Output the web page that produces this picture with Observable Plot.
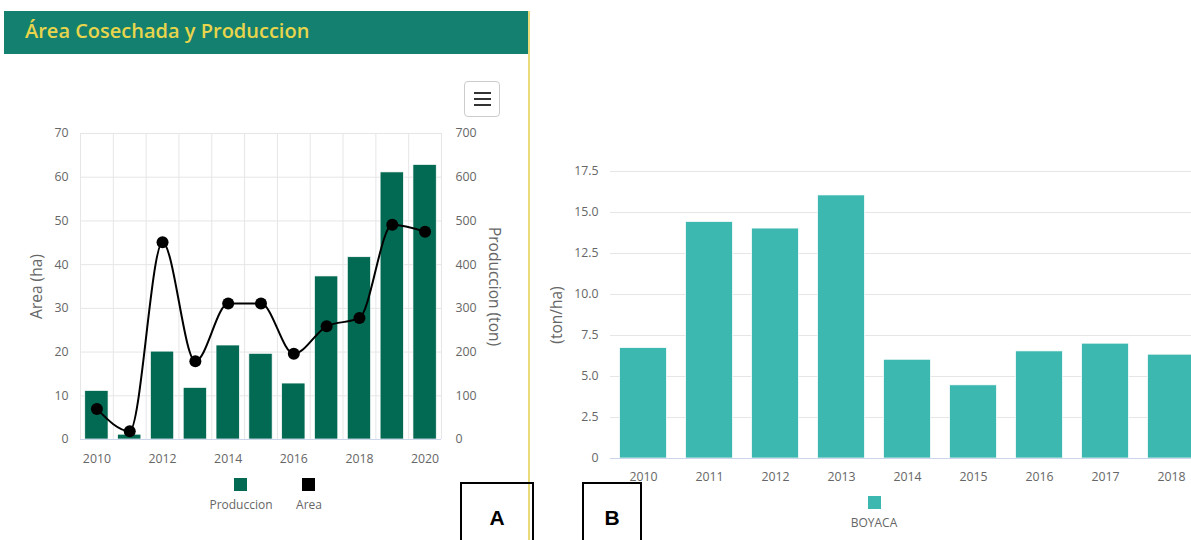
<!DOCTYPE html>
<html><head><meta charset="utf-8">
<script src="https://cdn.jsdelivr.net/npm/d3@7"></script>
<script src="https://cdn.jsdelivr.net/npm/@observablehq/plot@0.6"></script>
<style>
html,body{margin:0;padding:0;width:1191px;height:540px;overflow:hidden;background:#fff;font-family:"Open Sans",sans-serif;}
#titlebar{position:absolute;left:4px;top:11px;width:525px;height:43px;background:#14806f;}
#titlebar span{position:absolute;left:21px;top:6px;color:#e8d54c;font-weight:600;font-size:20px;white-space:nowrap;}
#panelborder{position:absolute;left:528px;top:11px;width:2px;height:529px;background:#eadb7a;}
#menu{position:absolute;left:464px;top:81px;width:36px;height:36px;border:1px solid #ccc;border-radius:4px;box-sizing:border-box;background:#fff;}
#menu i{position:absolute;left:9px;width:17px;height:2px;background:#333;}
#chartA{position:absolute;left:0;top:120px;width:529px;}
#chartB{position:absolute;left:530px;top:150px;width:680px;}
#chartA svg,#chartB svg{max-width:none !important;}
.sw{position:absolute;width:13px;height:13px;}
.lt{position:absolute;font-size:12px;color:#666;transform:translate(-50%,-50%);white-space:nowrap;}
.box{position:absolute;border:2px solid #000;box-sizing:border-box;z-index:5;}
.box b{position:absolute;font-family:"Liberation Sans",Arial,sans-serif;font-size:21px;font-weight:bold;color:#000;transform:translate(-50%,-50%);}
</style></head>
<body>
<div id="titlebar"><span id="title"></span></div>
<div id="panelborder"></div>
<div id="chartA"></div>
<div id="chartB"></div>
<div id="menu"><i style="top:10px"></i><i style="top:16px"></i><i style="top:22px"></i></div>
<div id="legA"></div>
<div id="legB"></div>
<div class="box" style="left:460px;top:482px;width:74px;height:70px;"><b style="left:35px;top:34px;">A</b></div>
<div class="box" style="left:582px;top:482px;width:60px;height:70px;"><b style="left:28px;top:34px;">B</b></div>
<script>
// ---- data ----
const titleText = "Área Cosechada y Produccion";
const years = [2010, 2011, 2012, 2013, 2014, 2015, 2016, 2017, 2018, 2019, 2020];
const produccion = [111, 11, 201, 118, 215, 196, 128, 373, 417, 611, 628];   // ton
const area = [7.0, 1.9, 45.1, 17.9, 31.1, 31.1, 19.6, 25.9, 27.8, 49.1, 47.5]; // ha
const xTicksA = [2010, 2012, 2014, 2016, 2018, 2020];
const areaTicks = [0, 10, 20, 30, 40, 50, 60, 70];
const prodTicks = [0, 100, 200, 300, 400, 500, 600, 700];
const seriesA = ["Produccion", "Area"];
const colorsA = ["#026952", "#000000"];

const yearsB = [2010, 2011, 2012, 2013, 2014, 2015, 2016, 2017, 2018];
const rendimiento = [6.73, 14.42, 14.02, 16.04, 6.02, 4.46, 6.53, 7.0, 6.33]; // ton/ha
const yieldTicks = [0, 2.5, 5, 7.5, 10, 12.5, 15, 17.5];
const seriesB = ["BOYACA"];
const colorB = "#3db8b0";

document.getElementById("title").textContent = titleText;

// ---- chart A ----
const dataA = years.map((y, i) => ({year: y, prod: produccion[i], area: area[i]}));
const prodScale = 10; // 700 ton on right axis aligns with 70 ha on left axis
const WA = 529, mlA = 80, mrA = 88;
const stepA = (WA - mlA - mrA) / years.length;
const font = {fontFamily: "'Open Sans', sans-serif", fontSize: "12.3px", color: "#666", background: "transparent", overflow: "visible", maxWidth: "none"};

const chartA = Plot.plot({
  width: WA, height: 360,
  marginLeft: mlA, marginRight: mrA, marginTop: 13, marginBottom: 41,
  style: font,
  x: {type: "band", domain: years, paddingInner: 0.29, paddingOuter: 0.145, round: false},
  y: {domain: [0, 70]},
  marks: [
    Plot.ruleY(areaTicks, {stroke: "#e6e6e6"}),
    Plot.ruleX(years, {x: d => d, dx: -stepA / 2, stroke: "#e6e6e6"}),
    Plot.ruleX(years.slice(-1), {x: d => d, dx: stepA / 2, stroke: "#e6e6e6"}),
    Plot.barY(dataA, {x: "year", y: d => d.prod / prodScale, fill: colorsA[0], stroke: "#ffffff", strokeWidth: 0.7}),
    Plot.ruleY([0], {stroke: "#ccd6eb"}),
    Plot.line(dataA, {x: "year", y: "area", stroke: colorsA[1], strokeWidth: 2, curve: "monotone-x"}),
    Plot.dot(dataA, {x: "year", y: "area", r: 6, fill: colorsA[1]}),
    Plot.axisX(xTicksA, {tickSize: 0, tickPadding: 15, tickFormat: d => String(d), label: null}),
    Plot.axisY(areaTicks, {anchor: "left", tickSize: 0, tickPadding: 12, label: null}),
    Plot.axisY(prodTicks.map(t => t / prodScale), {anchor: "right", tickSize: 0, tickPadding: 14, tickFormat: d => String(Math.round(d * prodScale)), label: null}),
    Plot.text(["Area (ha)"], {text: d => d, frameAnchor: "left", textAnchor: "middle", rotate: -90, dx: -43, fill: "#666", fontSize: 15.5}),
    Plot.text(["Produccion (ton)"], {text: d => d, frameAnchor: "right", textAnchor: "middle", rotate: 90, dx: 52, fill: "#666", fontSize: 15.5})
  ]
});
document.getElementById("chartA").appendChild(chartA);

// legend A
const legA = document.getElementById("legA");
const legAx = [241, 309];
seriesA.forEach((s, i) => {
  const sw = document.createElement("div");
  sw.className = "sw"; sw.style.background = colorsA[i];
  sw.style.left = (legAx[i] - 7) + "px"; sw.style.top = "478px";
  legA.appendChild(sw);
  const t = document.createElement("div");
  t.className = "lt"; t.textContent = s;
  t.style.left = legAx[i] + "px"; t.style.top = "504px";
  legA.appendChild(t);
});

// ---- chart B ----
const dataB = yearsB.map((y, i) => ({year: y, v: rendimiento[i]}));
const chartB = Plot.plot({
  width: 680, height: 340,
  marginLeft: 80, marginRight: 6, marginTop: 21, marginBottom: 32,
  style: font,
  x: {type: "band", domain: yearsB, paddingInner: 0.29, paddingOuter: 0.145, round: false},
  y: {domain: [0, 17.5]},
  marks: [
    Plot.ruleY(yieldTicks, {stroke: "#e6e6e6"}),
    Plot.barY(dataB, {x: "year", y: "v", fill: colorB, stroke: "#ffffff", strokeWidth: 0.7}),
    Plot.ruleY([0], {stroke: "#ccd6eb"}),
    Plot.axisX(yearsB, {tickSize: 0, tickPadding: 14, tickFormat: d => String(d), label: null}),
    Plot.axisY(yieldTicks, {tickSize: 0, tickPadding: 12, tickFormat: d => d === 0 ? "0" : d.toFixed(1), label: null}),
    Plot.text(["(ton/ha)"], {text: d => d, frameAnchor: "left", textAnchor: "middle", rotate: -90, dx: -53, fill: "#666", fontSize: 15.5})
  ]
});
document.getElementById("chartB").appendChild(chartB);

const legB = document.getElementById("legB");
seriesB.forEach((s) => {
  const sw = document.createElement("div");
  sw.className = "sw"; sw.style.background = colorB;
  sw.style.left = "868px"; sw.style.top = "496px";
  legB.appendChild(sw);
  const t = document.createElement("div");
  t.className = "lt"; t.textContent = s;
  t.style.left = "874px"; t.style.top = "522px";
  legB.appendChild(t);
});
</script>
</body></html>
